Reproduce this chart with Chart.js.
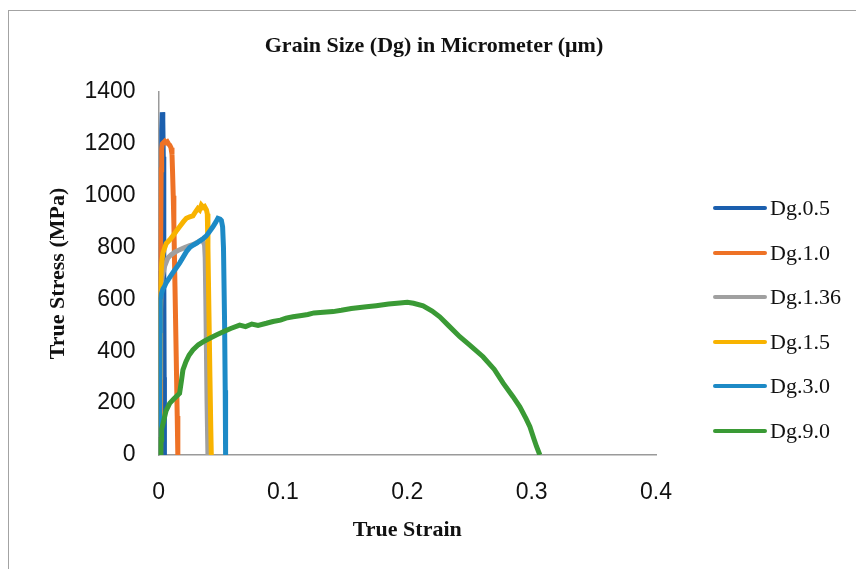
<!DOCTYPE html>
<html>
<head>
<meta charset="utf-8">
<title>True Stress vs True Strain</title>
<script src="https://cdn.jsdelivr.net/npm/chart.js@4.4.0/dist/chart.umd.min.js"></script>
<style>
    body { margin: 0; background: #fff; overflow: hidden; }
    #marco { position: absolute; left: 8px; top: 10px; width: 900px; height: 600px; border: 1px solid #a3a3a3; }
    #caja { position: absolute; left: 0; top: 0; width: 856px; height: 569px; }
    #titulo { position: absolute; left: 0; top: 32px; width: 868px; text-align: center;
              font: bold 22px "Liberation Serif", serif; line-height: 26px; color: #111; }
    #leyenda { position: absolute; left: 713px; top: 0; }
    .item { position: absolute; left: 0; height: 26px; white-space: nowrap; display: flex; align-items: center;
            font: 22px "Liberation Serif", serif; color: #111; }
    .linea { width: 54px; height: 4px; border-radius: 2px; margin-right: 3px; }
</style>
</head>
<body>
<div id="marco"></div>
<div id="caja"><canvas id="grafico" width="856" height="569"></canvas></div>
<div id="titulo">Grain Size (Dg) in Micrometer (μm)</div>
<div id="leyenda"></div>

<script>
// series: tamaño de grano, color y curva [deformacion, esfuerzo]
var nombres = ["Dg.0.5", "Dg.1.0", "Dg.1.36", "Dg.1.5", "Dg.3.0", "Dg.9.0"];
var colores = ["#1b5fae", "#ee7226", "#a0a0a0", "#f8b300", "#1d8ac6", "#3a9a35"];

var dg05 = [[0.0015,0],[0.0018,300],[0.0021,700],[0.0024,1050],[0.0027,1250],[0.003,1322],[0.0034,1290],
    [0.0038,1150],[0.0042,700],[0.0045,300],[0.0047,0]];

var dg10 = [[0.0012,0],[0.0015,400],[0.0018,800],[0.0021,1100],[0.0025,1180],[0.003,1200],[0.004,1205],
    [0.005,1210],[0.006,1205],[0.007,1208],[0.008,1200],[0.009,1195],[0.010,1185],[0.0108,1160],[0.0112,1100],
    [0.0118,1000],[0.0123,894],[0.0132,650],[0.0142,379],[0.0150,150],[0.0155,0]];

var dg136 = [[0.0008,0],[0.0012,300],[0.0016,560],[0.002,640],[0.003,690],[0.005,730],[0.0075,760],[0.01,772],
    [0.013,782],[0.017,792],[0.021,800],[0.025,808],[0.028,812],[0.031,820],[0.034,828],[0.036,822],[0.037,810],
    [0.0375,760],[0.038,600],[0.0385,400],[0.039,200],[0.0397,0]];

var dg15 = [[0.0008,0],[0.001,300],[0.0012,550],[0.0014,636],[0.0025,740],[0.0035,778],[0.005,800],[0.0062,816],
    [0.009,830],[0.0115,845],[0.014,862],[0.0169,880],[0.02,900],[0.0223,913],[0.025,918],[0.0276,922],[0.030,940],
    [0.0316,951],[0.033,945],[0.0344,964],[0.036,955],[0.037,958],[0.0385,945],[0.0392,930],[0.0397,800],
    [0.0405,550],[0.0413,300],[0.042,100],[0.0424,0]];

var dg30 = [[0.0006,0],[0.0009,250],[0.0012,480],[0.0014,600],[0.0025,625],[0.0035,640],[0.005,652],[0.0062,665],
    [0.009,685],[0.0115,703],[0.014,720],[0.0169,740],[0.02,765],[0.0225,785],[0.025,800],[0.028,810],[0.031,818],
    [0.033,825],[0.036,835],[0.0384,845],[0.041,862],[0.0437,880],[0.046,898],[0.0477,913],[0.0495,910],
    [0.0505,905],[0.0515,880],[0.0522,800],[0.0531,508],[0.0536,250],[0.0539,0]];

var dg90 = [[0.0018,0],[0.002,60],[0.0025,100],[0.004,130],[0.006,170],[0.0089,199],[0.012,215],[0.0169,238],
    [0.0185,290],[0.0196,328],[0.022,360],[0.0245,385],[0.0276,405],[0.032,425],[0.037,440],[0.042,452],
    [0.0464,463],[0.052,475],[0.058,488],[0.0652,501],[0.07,495],[0.075,505],[0.08,500],[0.0867,508],[0.092,515],
    [0.098,520],[0.1025,528],[0.1081,533],[0.115,538],[0.12,542],[0.125,548],[0.13,550],[0.1403,553],[0.147,558],
    [0.155,565],[0.1672,572],[0.175,576],[0.185,582],[0.194,586],[0.2,589],[0.205,585],[0.2127,575],[0.22,555],
    [0.2261,533],[0.233,500],[0.2422,456],[0.25,425],[0.2609,379],[0.27,330],[0.2771,277],[0.285,225],
    [0.2905,186],[0.2955,140],[0.2986,109],[0.302,60],[0.304,32],[0.3066,0]];

var curvas = [dg05, dg10, dg136, dg15, dg30, dg90];

// ejes
var ejeX = { min: 0, max: 0.4, paso: 0.1 };
var ejeY = { min: 0, max: 1400, paso: 200 };

var datasets = [];
for (var i = 0; i < curvas.length; i++) {
    datasets.push({
        label: nombres[i],
        data: curvas[i].map(function(p) { return { x: p[0], y: p[1] }; }),
        borderColor: colores[i],
        backgroundColor: colores[i],
        borderWidth: 5,
        pointRadius: 0,
        showLine: true,
        tension: 0,
        order: curvas.length - i   // la ultima serie queda encima
    });
}

var canvas = document.getElementById('grafico').getContext("2d");
window.grafico = new Chart(canvas, {
    type: "scatter",
    data: { datasets: datasets },
    options: {
        responsive: false,
        animation: false,
        layout: { padding: { left: 30, top: 92, right: 200, bottom: 20 } },
        plugins: {
            legend: { display: false },
            title: { display: false },
            tooltip: { enabled: false }
        },
        scales: {
            x: {
                type: "linear",
                min: ejeX.min,
                max: ejeX.max,
                grid: { display: false, drawTicks: false },
                border: { display: true, color: "#9a9a9a", width: 1.5 },
                ticks: {
                    stepSize: ejeX.paso,
                    padding: 24,
                    color: "#111",
                    font: { family: "Liberation Sans", size: 23 },
                    callback: function(v) { return String(Math.round(v * 10) / 10); }
                },
                title: {
                    display: true,
                    text: "True Strain",
                    color: "#111",
                    font: { family: "Liberation Serif", size: 22, weight: "bold" },
                    padding: { top: -13, bottom: 5 }
                }
            },
            y: {
                min: ejeY.min,
                max: ejeY.max,
                grid: { display: false, drawTicks: false },
                border: { display: true, color: "#9a9a9a", width: 1.5 },
                ticks: {
                    stepSize: ejeY.paso,
                    padding: 23,
                    color: "#111",
                    font: { family: "Liberation Sans", size: 23 },
                    callback: function(v) { return String(v); }
                },
                title: {
                    display: true,
                    text: "True Stress (MPa)",
                    color: "#111",
                    font: { family: "Liberation Serif", size: 22, weight: "bold" },
                    padding: { top: 15, bottom: -10 }
                }
            }
        }
    }
});

// leyenda a la derecha
var leyenda = document.getElementById('leyenda');
for (var j = 0; j < nombres.length; j++) {
    var item = document.createElement('div');
    item.className = 'item';
    item.style.top = (208 + j * 44.6 - 13) + 'px';
    var linea = document.createElement('span');
    linea.className = 'linea';
    linea.style.background = colores[j];
    item.appendChild(linea);
    item.appendChild(document.createTextNode(nombres[j]));
    leyenda.appendChild(item);
}
</script>
</body>
</html>
